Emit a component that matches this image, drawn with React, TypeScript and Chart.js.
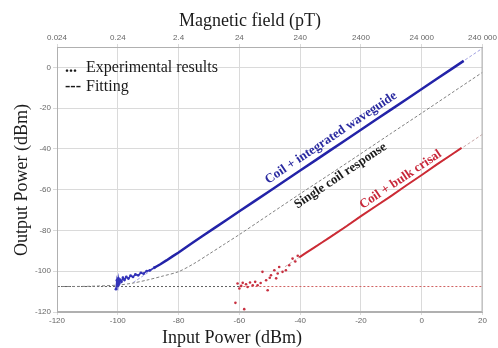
import React, { useEffect, useRef } from "react";
import { Chart, registerables } from "chart.js";
Chart.register(...registerables);

// ---- tick labels ----
const topTickLabels = ["0.024", "0.24", "2.4", "24", "240", "2400", "24 000", "240 000"];

// ---- Coil + integrated waveguide (experimental) ----
const blueNoiseX = [-100.6, -100.3, -100.0, -99.8, -99.5, -99.2, -98.8, -98.3, -97.8, -97.2, -96.5, -95.8, -95.0, -94.2, -93.3, -92.4, -91.5, -90.5, -89.5, -88.0];
const blueNoiseY = [-108.8, -104.5, -107.0, -103.5, -106.0, -104.2, -105.2, -103.2, -104.3, -102.8, -103.6, -102.2, -102.8, -101.6, -102.0, -100.8, -101.2, -99.9, -99.6, -98.3];
const blueLineX = [-88.0, -86.0, -84.0, -82.0, -80.0, -76.0, -72.0, -68.0, -64.0, -60.0, -55.0, -50.0, -45.0, -40.0, -35.0, -30.0, -25.0, -20.0, -15.0, -10.0, -5.0, 0.0, 5.0, 10.0, 13.8];
const blueLineY = [-98.3, -96.6, -94.7, -92.7, -90.8, -86.6, -82.6, -78.6, -74.6, -70.6, -65.6, -60.6, -55.6, -50.6, -45.6, -40.6, -35.6, -30.6, -25.6, -20.6, -15.6, -10.6, -5.6, -0.6, 3.2];

// ---- Coil + bulk crisal (experimental) ----
const redNoiseX = [-61.3, -60.6, -60.0, -59.4, -58.9, -58.4, -57.8, -57.3, -56.5, -55.6, -54.8, -54.0, -53.0, -52.4, -51.2, -50.7, -50.0, -49.6, -48.5, -47.9, -47.4, -46.9, -45.8, -44.7, -43.6, -42.5, -41.6, -40.8];
const redNoiseY = [-115.5, -106.0, -108.5, -107.2, -105.7, -118.6, -106.4, -107.7, -105.5, -106.9, -105.2, -106.9, -105.8, -100.3, -104.4, -109.3, -103.2, -102.0, -99.5, -103.5, -101.1, -97.9, -100.3, -99.5, -97.1, -93.8, -95.2, -92.4];
const redLineX = [-40.3, -38.1, -35.4, -32.7, -30.5, -25.0, -20.0, -15.0, -10.0, -5.0, 0.0, 5.0, 10.0, 13.1];
const redLineY = [-93.2, -91.0, -88.4, -85.8, -83.6, -78.2, -73.0, -68.0, -63.0, -57.8, -52.8, -47.6, -42.6, -39.5];

// ---- Fittings ----
const coilFitX = [-120, -110, -100, -95, -90, -85, -80, -75, -70, -65, -60, -50, -40, -30, -20, -10, 0, 10, 20];
const coilFitY = [-107.5, -107.4, -106.8, -105.8, -104.2, -102.3, -100.2, -96.3, -91.6, -86.8, -82.0, -72.0, -62.0, -52.2, -42.3, -32.3, -22.4, -12.4, -2.4];
const blueFitX = [-95, 20];
const blueFitY = [-105.6, 9.4];
const redFitX = [-45, 20];
const redFitY = [-97.8, -32.8];
const floorLeftX = [-120, -60];
const floorLeftY = [-107.5, -107.5];
const floorRightX = [-60, 20];
const floorRightY = [-107.5, -107.5];

const pts = (xs: number[], ys: number[]) => xs.map((x, i) => ({ x, y: ys[i] }));

const SERIF = "'Liberation Serif', 'Times New Roman', serif";
const SANS = "'Liberation Sans', Arial, sans-serif";

const textPlugin = {
  id: "texts",
  afterDraw(chart: any) {
    const { ctx, chartArea, scales } = chart;
    const sx = scales.x, sy = scales.y;
    ctx.save();
    // frame
    ctx.strokeStyle = "#b0b0b0";
    ctx.lineWidth = 1;
    ctx.strokeRect(chartArea.left + 0.5, chartArea.top + 0.5, chartArea.right - chartArea.left - 1, chartArea.bottom - chartArea.top - 1);

    // titles
    ctx.fillStyle = "#1a1a1a";
    ctx.textAlign = "center";
    ctx.textBaseline = "middle";
    ctx.font = `18px ${SERIF}`;
    ctx.fillText("Magnetic field (pT)", 250, 21);
    ctx.fillText("Input Power (dBm)", 232, 338);
    ctx.save();
    ctx.translate(22, 180);
    ctx.rotate(-Math.PI / 2);
    ctx.fillText("Output Power (dBm)", 0, 0);
    ctx.restore();

    // legend text
    ctx.textAlign = "left";
    ctx.textBaseline = "alphabetic";
    ctx.font = `bold 16px ${SERIF}`;
    ctx.fillText("...", 65, 72);
    ctx.fillText("---", 65, 91);
    ctx.font = `16px ${SERIF}`;
    ctx.fillText("Experimental results", 86, 72);
    ctx.fillText("Fitting", 86, 91);

    // rotated annotations
    const label = (text: string, color: string, xd: number, yd: number, off: number) => {
      const px = sx.getPixelForValue(xd), py = sy.getPixelForValue(yd);
      const ang = Math.atan2(sy.getPixelForValue(yd + 10) - py, sx.getPixelForValue(xd + 10) - px);
      ctx.save();
      ctx.translate(px, py);
      ctx.rotate(ang);
      ctx.fillStyle = color;
      ctx.font = `bold 13px ${SERIF}`;
      ctx.textAlign = "center";
      ctx.textBaseline = "middle";
      ctx.fillText(text, 0, -off);
      ctx.restore();
    };
    label("Coil + integrated waveguide", "#2a2aa0", -28, -38.6, 10);
    label("Single coil response", "#1a1a1a", -28, -50.3, -7);
    label("Coil + bulk crisal", "#c8283a", -5.5, -58.3, 8);
    ctx.restore();
  },
};

export default function App() {
  const ref = useRef<HTMLCanvasElement>(null);
  useEffect(() => {
    if (!ref.current) return;
    const gridColor = "#dadada";
    const tickFont = { family: SANS, size: 8 };
    const chart = new Chart(ref.current, {
      type: "scatter",
      data: {
        datasets: [
          { data: pts(blueLineX, blueLineY), showLine: true, borderColor: "#2323a8", borderWidth: 2.5, pointRadius: 0 },
          { data: pts(blueNoiseX, blueNoiseY), showLine: true, borderColor: "#3333b8", borderWidth: 1.5, pointRadius: 1.4, pointBackgroundColor: "#3333b8", pointBorderWidth: 0 },
          { data: pts(redLineX, redLineY), showLine: true, borderColor: "#cc2b35", borderWidth: 2, pointRadius: 0 },
          { data: pts(redNoiseX, redNoiseY), showLine: false, pointRadius: 1.3, pointBackgroundColor: "#c83040", pointBorderWidth: 0 },
          { data: pts(coilFitX, coilFitY), showLine: true, borderColor: "#808080", borderWidth: 1, borderDash: [3, 2], pointRadius: 0, tension: 0.3 },
          { data: pts(blueFitX, blueFitY), showLine: true, borderColor: "#a0a0e0", borderWidth: 1, borderDash: [3, 2], pointRadius: 0 },
          { data: pts(redFitX, redFitY), showLine: true, borderColor: "#c8a8a8", borderWidth: 1, borderDash: [3, 2], pointRadius: 0 },
          { data: pts(floorLeftX, floorLeftY), showLine: true, borderColor: "#606060", borderWidth: 1, borderDash: [2, 2], pointRadius: 0 },
          { data: pts(floorRightX, floorRightY), showLine: true, borderColor: "#d06060", borderWidth: 1, borderDash: [2, 2], pointRadius: 0 },
        ],
      },
      options: {
        animation: false,
        responsive: false,
        devicePixelRatio: 1,
        layout: { padding: { left: 0, right: 15, top: 0, bottom: 0 } },
        plugins: { legend: { display: false }, tooltip: { enabled: false } },
        scales: {
          x: {
            type: "linear",
            position: "bottom",
            min: -120,
            max: 20,
            ticks: { stepSize: 20, font: tickFont, color: "#666", padding: 1, maxRotation: 0 },
            grid: { color: gridColor, tickLength: 3 },
            border: { color: "#b0b0b0" },
            afterFit: (s: any) => { s.height = 36; },
          },
          x2: {
            type: "linear",
            position: "top",
            min: -120,
            max: 20,
            ticks: {
              stepSize: 20,
              font: tickFont,
              color: "#666",
              padding: 1,
              maxRotation: 0,
              callback: (v: any) => topTickLabels[Math.round((Number(v) + 120) / 20)] ?? "",
            },
            grid: { drawOnChartArea: false, color: gridColor, tickLength: 3 },
            border: { color: "#b0b0b0" },
            afterFit: (s: any) => { s.height = 47; },
          },
          y: {
            type: "linear",
            min: -120,
            max: 10,
            ticks: { stepSize: 20, includeBounds: false, font: tickFont, color: "#666", padding: 2 },
            grid: { color: gridColor, tickLength: 4 },
            border: { color: "#b0b0b0" },
            afterFit: (s: any) => { s.width = 57; },
          },
        },
      },
      plugins: [textPlugin],
    } as any);
    return () => chart.destroy();
  }, []);
  return (
    <div style={{ position: "fixed", left: 0, top: 0, width: 498, height: 348, background: "#fff" }}>
      <canvas ref={ref} width={498} height={348} />
    </div>
  );
}
